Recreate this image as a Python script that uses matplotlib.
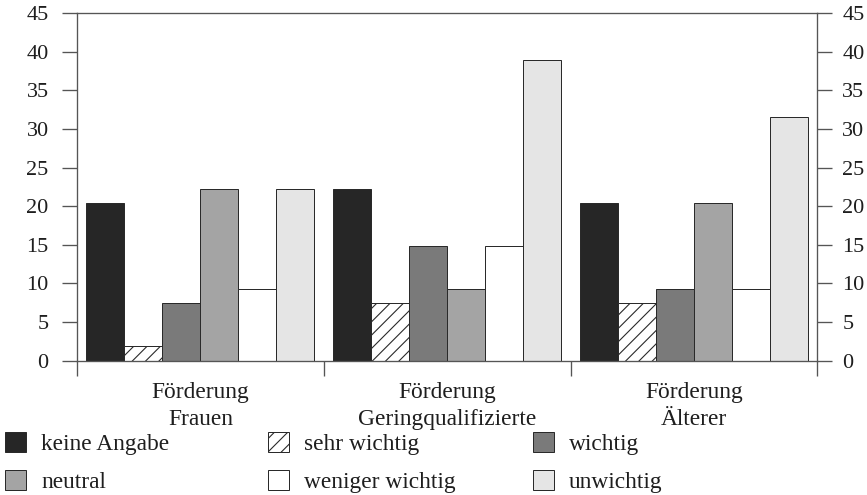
import numpy as np
import matplotlib.pyplot as plt

# フォント設定（Times 風のセリフ体）
plt.rcParams.update({
    'font.family': 'serif',
    'font.serif': ['Liberation Serif', 'DejaVu Serif'],
    'font.size': 21,
    'hatch.linewidth': 1.0,
    'text.color': '#1e1e1e',
    'xtick.color': '#1e1e1e',
    'ytick.color': '#1e1e1e',
})

# データ
kategorien = ['Förderung\nFrauen', 'Förderung\nGeringqualifizierte', 'Förderung\nÄlterer']
antworten = ['keine Angabe', 'sehr wichtig', 'wichtig', 'neutral', 'weniger wichtig', 'unwichtig']
keine_angabe = [20.4, 22.2, 20.4]
sehr_wichtig = [1.9, 7.4, 7.4]
wichtig = [7.4, 14.8, 9.3]
neutral = [22.2, 9.3, 20.4]
weniger_wichtig = [9.3, 14.8, 9.3]
unwichtig = [22.2, 38.9, 31.5]
y_ticks = [0, 5, 10, 15, 20, 25, 30, 35, 40, 45]

werte = [keine_angabe, sehr_wichtig, wichtig, neutral, weniger_wichtig, unwichtig]
farben = ['#262626', 'white', '#7a7a7a', '#a4a4a4', 'white', '#e5e5e5']
muster = [None, '//', None, None, None, None]
linie = '#555555'

fig = plt.figure(figsize=(867 / 80, 495 / 80), dpi=80)
ax = fig.add_axes([0.0888, 0.2717, 0.8539, 0.7014])

# 棒グラフ
x = np.arange(len(kategorien))
breite = 0.154
for i, (name, w) in enumerate(zip(antworten, werte)):
    ax.bar(x + (i - 2.5) * breite, w, breite, color=farben[i], hatch=muster[i],
           edgecolor='#2a2a2a', linewidth=0.9, label=name)

ax.set_xlim(-0.5, 2.5)
ax.set_ylim(0, 45)
ax.set_yticks(y_ticks)
ax.set_xticks(x)
ax.set_xticklabels(kategorien, linespacing=1.34)
ax.set_xticks(np.arange(-0.5, 3, 1), minor=True)
ax.tick_params(axis='x', which='major', length=0, pad=19.5)
ax.tick_params(axis='x', which='minor', length=13.5, width=1.2, color=linie, direction='out')
ax.tick_params(axis='y', left=True, right=True, labelright=False, length=13.5, width=1.2,
               color=linie, labelsize=20, pad=12)
for s in ax.spines.values():
    s.set_color(linie)
    s.set_linewidth(1.2)

# 右側の目盛ラベル
ax2 = ax.twinx()
ax2.set_ylim(0, 45)
ax2.set_yticks(y_ticks)
ax2.tick_params(axis='y', length=13.5, width=1.2, color=linie, labelsize=20, pad=9)
for s in ax2.spines.values():
    s.set_visible(False)

# 凡例（3列）
h, l = ax.get_legend_handles_labels()
for j, xp in enumerate([5, 268, 533]):
    fig.legend([h[j], h[j + 3]], [l[j], l[j + 3]], loc='upper left',
               bbox_to_anchor=(xp / 867, 1 - 432 / 495), frameon=False,
               borderpad=0, borderaxespad=0, handlelength=0.92, handleheight=0.92,
               handletextpad=0.63, labelspacing=0.66)

fig.savefig('out.png', dpi=80)
